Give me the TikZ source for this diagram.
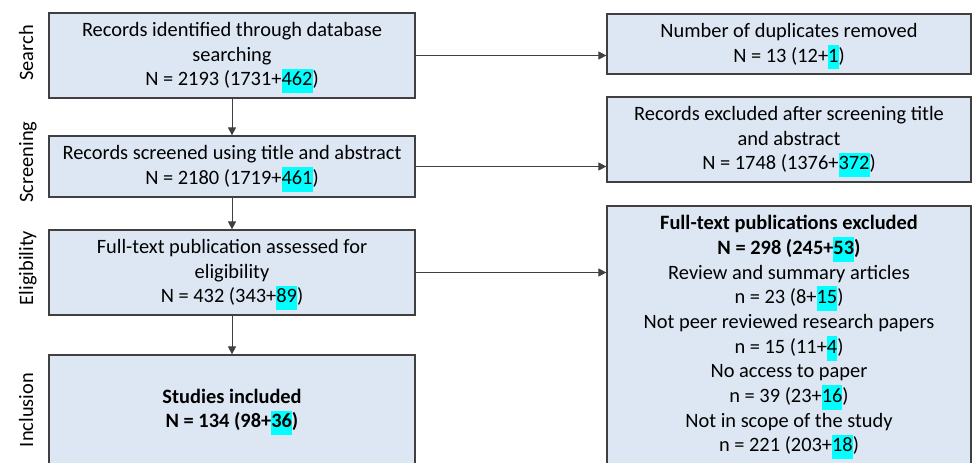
\documentclass[tikz,border=0pt]{standalone}
\usepackage{fontspec}
\setmainfont{Carlito}
\usetikzlibrary{arrows.meta}
\definecolor{boxfill}{HTML}{DDE7F3}
\definecolor{boxline}{HTML}{404040}
\definecolor{hlcyan}{HTML}{00FFFF}
\newcommand{\hlnum}[1]{{\setlength{\fboxsep}{0pt}\smash{\colorbox{hlcyan}{\strut #1}}}}
\begin{document}
\begin{tikzpicture}[x=1pt, y=-1pt,
    every node/.style={font=\fontsize{20.4}{24.7}\selectfont},
    stagebox/.style={draw=boxline, fill=boxfill, line width=1.2pt, align=center, inner sep=0pt},
    stagelabel/.style={rotate=90, anchor=base},
    flow/.style={draw=boxline, line width=0.9pt, -{Triangle[length=8pt,width=8pt]}}]
            \useasboundingbox (0,0) rectangle (972,463);
            \node[stagelabel] (lsearch) at (33,53) {Search};
            \node[stagelabel] (lscreen) at (33,162) {Screening};
            \node[stagelabel] (lelig) at (33,268) {Eligibility};
            \node[stagelabel] (lincl) at (33,410) {Inclusion};
            \node[stagebox, minimum width=366pt, minimum height=85pt] (search) at (232,55.5)
                {Records identified through database\\searching\\N = 2193 (1731+\hlnum{462})};
            \node[stagebox, minimum width=366pt, minimum height=61pt] (screen) at (232,166.5)
                {Records screened using title and abstract\\N = 2180 (1719+\hlnum{461})};
            \node[stagebox, minimum width=366pt, minimum height=85pt] (elig) at (232,272.5)
                {Full-text publication assessed for\\eligibility\\N = 432 (343+\hlnum{89})};
            \node[stagebox, minimum width=366pt, minimum height=110pt] (incl) at (232,410)
                {\textbf{Studies included}\\\textbf{N = 134 (98+\hlnum{36})}};
            \node[stagebox, minimum width=364pt, minimum height=60pt] (dup) at (789,44)
                {Number of duplicates removed\\N = 13 (12+\hlnum{1})};
            \node[stagebox, minimum width=364pt, minimum height=85pt] (excl) at (789,139.5)
                {Records excluded after screening title\\and abstract\\N = 1748 (1376+\hlnum{372})};
            \node[stagebox, minimum width=364pt, minimum height=258pt] (fulltext) at (789,335)
                {\textbf{Full-text publications excluded}\\\textbf{N = 298 (245+\hlnum{53})}\\
                 Review and summary articles\\n = 23 (8+\hlnum{15})\\
                 Not peer reviewed research papers\\n = 15 (11+\hlnum{4})\\
                 No access to paper\\n = 39 (23+\hlnum{16})\\
                 Not in scope of the study\\n = 221 (203+\hlnum{18})};
            \draw[flow] (search) -- (screen);
            \draw[flow] (screen) -- (elig);
            \draw[flow] (elig) -- (incl);
            \draw[flow] (search.east) -- (search.east -| dup.west);
            \draw[flow] (screen.east) -- (screen.east -| excl.west);
            \draw[flow] (elig.east) -- (elig.east -| fulltext.west);
        \end{tikzpicture}
\end{document}
